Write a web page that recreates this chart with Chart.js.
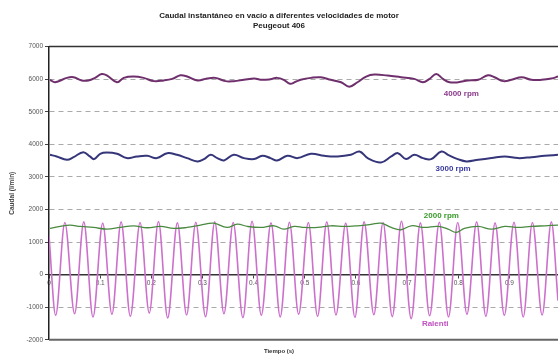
<!DOCTYPE html>
<html>
<head>
<meta charset="utf-8">
<script src="https://cdn.jsdelivr.net/npm/chart.js@4.4.0/dist/chart.umd.min.js"></script>
<style>
  html, body { margin: 0; padding: 0; background: #fff; }
  #wrap { width: 558px; height: 358px; }
</style>
</head>
<body>
<div id="wrap"><canvas id="caudalChart"></canvas></div>
<script>
// tiempo (s) y caudal (l/min)
const t4000 = [0.002, 0.012, 0.035, 0.048, 0.064, 0.077, 0.090, 0.103, 0.113, 0.133, 0.146, 0.165, 0.185, 0.205, 0.224, 0.241, 0.257, 0.270, 0.290, 0.309, 0.325, 0.345, 0.361, 0.381, 0.401, 0.417, 0.433, 0.446, 0.459, 0.471, 0.482, 0.492, 0.512, 0.531, 0.551, 0.571, 0.587, 0.603, 0.620, 0.636, 0.662, 0.688, 0.714, 0.731, 0.744, 0.757, 0.770, 0.783, 0.800, 0.819, 0.839, 0.858, 0.871, 0.888, 0.904, 0.924, 0.943, 0.963, 0.982, 0.995];
const v4000 = [5979, 5906, 6040, 6060, 5960, 5960, 6040, 6160, 6120, 5906, 6040, 6080, 6040, 5940, 5960, 6010, 6120, 6080, 5960, 6020, 6040, 5940, 5940, 5980, 6020, 5980, 6000, 6040, 5980, 5860, 5920, 5980, 6040, 6060, 5980, 5906, 5770, 5906, 6080, 6140, 6110, 6060, 6010, 5906, 6010, 6160, 6010, 5906, 5906, 5960, 5980, 6120, 6060, 5940, 5980, 6060, 5980, 5980, 6020, 6080];

const t3000 = [0.002, 0.015, 0.035, 0.048, 0.067, 0.080, 0.088, 0.100, 0.113, 0.133, 0.152, 0.172, 0.192, 0.211, 0.231, 0.250, 0.270, 0.290, 0.303, 0.316, 0.329, 0.342, 0.361, 0.381, 0.401, 0.417, 0.433, 0.446, 0.466, 0.486, 0.512, 0.538, 0.564, 0.590, 0.607, 0.623, 0.649, 0.669, 0.682, 0.698, 0.714, 0.731, 0.747, 0.767, 0.780, 0.799, 0.816, 0.839, 0.865, 0.891, 0.917, 0.943, 0.969, 0.995];
const v3000 = [3678, 3628, 3526, 3607, 3760, 3628, 3547, 3709, 3749, 3709, 3577, 3628, 3648, 3577, 3729, 3678, 3577, 3476, 3547, 3678, 3577, 3506, 3678, 3577, 3547, 3648, 3577, 3506, 3648, 3577, 3709, 3648, 3628, 3678, 3780, 3577, 3445, 3628, 3729, 3547, 3678, 3577, 3547, 3780, 3678, 3547, 3476, 3526, 3577, 3628, 3577, 3607, 3648, 3678];

const t2000 = [0.002, 0.022, 0.041, 0.061, 0.087, 0.113, 0.139, 0.165, 0.192, 0.218, 0.244, 0.270, 0.296, 0.322, 0.348, 0.368, 0.388, 0.414, 0.440, 0.459, 0.479, 0.499, 0.525, 0.551, 0.577, 0.603, 0.629, 0.649, 0.669, 0.688, 0.708, 0.734, 0.760, 0.780, 0.796, 0.812, 0.839, 0.865, 0.891, 0.917, 0.943, 0.969, 0.995];
const v2000 = [1419, 1480, 1520, 1480, 1449, 1398, 1449, 1500, 1439, 1480, 1419, 1449, 1520, 1581, 1449, 1550, 1480, 1449, 1500, 1398, 1480, 1449, 1449, 1500, 1480, 1500, 1540, 1581, 1449, 1378, 1500, 1449, 1480, 1398, 1297, 1419, 1480, 1398, 1480, 1449, 1480, 1500, 1520];

// ralenti: maximos y minimos de la oscilacion
const tRalenti = [0, 0.013, 0.031, 0.050, 0.068, 0.086, 0.105, 0.123, 0.141, 0.159, 0.178, 0.196, 0.214, 0.232, 0.251, 0.269, 0.287, 0.306, 0.324, 0.342, 0.360, 0.379, 0.397, 0.415, 0.434, 0.452, 0.470, 0.488, 0.507, 0.525, 0.543, 0.561, 0.580, 0.598, 0.616, 0.635, 0.653, 0.671, 0.689, 0.708, 0.726, 0.744, 0.763, 0.781, 0.799, 0.817, 0.836, 0.854, 0.872, 0.890, 0.909, 0.927, 0.945, 0.964, 0.982, 0.995];
const vRalenti = [1200, -1250, 1600, -1200, 1620, -1300, 1580, -1220, 1620, -1280, 1600, -1180, 1630, -1330, 1590, -1240, 1610, -1290, 1620, -1200, 1600, -1320, 1640, -1250, 1590, -1300, 1610, -1220, 1600, -1280, 1620, -1240, 1580, -1310, 1620, -1230, 1600, -1290, 1640, -1350, 1590, -1260, 1610, -1300, 1600, -1220, 1620, -1280, 1590, -1250, 1610, -1300, 1600, -1240, 1620, -800];

const yTicks = [7000, 6000, 5000, 4000, 3000, 2000, 1000, 0, -1000, -2000];
const xTicks = [0, 0.1, 0.2, 0.3, 0.4, 0.5, 0.6, 0.7, 0.8, 0.9];
const seriesNames = ['4000 rpm', '3000 rpm', '2000 rpm', 'Ralenti'];

function toPoints(ts, vs) {
    return ts.map(function(t, i) { return { x: t, y: vs[i] }; });
}

// etiquetas de cada curva, en coordenadas de datos
const seriesLabels = [
    { text: '4000 rpm', t: 0.806, v: 5563, color: '#8a3a8a' },
    { text: '3000 rpm', t: 0.790, v: 3253, color: '#3a3aa0' },
    { text: '2000 rpm', t: 0.767, v: 1794, color: '#3a9a2a' },
    { text: 'Ralenti', t: 0.755, v: -1520, color: '#c050c0' }
];

const framePlugin = {
    id: 'frame',
    beforeDatasetsDraw(chart) {
        const a = chart.chartArea, ctx = chart.ctx;
        ctx.save();
        ctx.strokeStyle = '#333';
        ctx.lineWidth = 1.5;
        ctx.beginPath();
        ctx.moveTo(a.left, a.top);
        ctx.lineTo(a.right, a.top);
        ctx.stroke();
        ctx.strokeStyle = '#666';
        ctx.lineWidth = 2;
        ctx.beginPath();
        ctx.moveTo(a.left, a.bottom);
        ctx.lineTo(a.right, a.bottom);
        ctx.stroke();
        ctx.restore();
    },
    afterDatasetsDraw(chart) {
        const ctx = chart.ctx, xs = chart.scales.x, ys = chart.scales.y;
        ctx.save();
        ctx.font = 'bold 8px "Liberation Sans", Arial, sans-serif';
        ctx.textAlign = 'center';
        ctx.textBaseline = 'middle';
        seriesLabels.forEach(function(l) {
            ctx.fillStyle = l.color;
            ctx.fillText(l.text, xs.getPixelForValue(l.t), ys.getPixelForValue(l.v));
        });
        ctx.restore();
    }
};

const ctx = document.getElementById('caudalChart').getContext('2d');
const caudalChart = new Chart(ctx, {
    type: 'line',
    data: {
        datasets: [{
            label: seriesNames[0],
            data: toPoints(t4000, v4000),
            borderColor: '#6e2f6c',
            borderWidth: 2,
            tension: 0.4
        }, {
            label: seriesNames[1],
            data: toPoints(t3000, v3000),
            borderColor: '#35357a',
            borderWidth: 2,
            tension: 0.4
        }, {
            label: seriesNames[2],
            data: toPoints(t2000, v2000),
            borderColor: '#4a8a40',
            borderWidth: 1.3,
            tension: 0.4
        }, {
            label: seriesNames[3],
            data: toPoints(tRalenti, vRalenti),
            borderColor: '#cc70cc',
            borderWidth: 1.6,
            cubicInterpolationMode: 'monotone'
        }]
    },
    options: {
        responsive: true,
        maintainAspectRatio: false,
        animation: false,
        devicePixelRatio: 1,
        elements: { point: { radius: 0 } },
        layout: { padding: { left: 0, right: 0, top: 0, bottom: 0 } },
        plugins: {
            legend: { display: false },
            tooltip: { enabled: false },
            title: {
                display: true,
                text: ['Caudal instantáneo en vacío a diferentes velocidades de motor', 'Peugeout 406'],
                color: '#222',
                font: { family: '"Liberation Sans", Arial, sans-serif', size: 8, weight: 'bold', lineHeight: 1.35 },
                padding: { top: 10, bottom: 15 }
            },
            subtitle: {
                display: true,
                position: 'bottom',
                text: 'Tiempo (s)',
                color: '#333',
                font: { family: '"Liberation Sans", Arial, sans-serif', size: 6, weight: 'bold', lineHeight: 1.2 },
                padding: { top: 8, bottom: 3 }
            }
        },
        scales: {
            x: {
                type: 'linear',
                position: { y: 0 },
                min: 0,
                max: 0.995,
                afterBuildTicks: function(axis) {
                    axis.ticks = xTicks.map(function(v) { return { value: v }; });
                },
                ticks: {
                    color: '#555',
                    padding: 2,
                    font: { family: '"Liberation Sans", Arial, sans-serif', size: 6.5 },
                    maxRotation: 0,
                    callback: function(v) { return String(v); }
                },
                grid: { drawOnChartArea: false, drawTicks: true, tickLength: 3, tickColor: '#444' },
                border: { display: true, color: '#333', width: 1.5 }
            },
            y: {
                min: -2000,
                max: 7000,
                afterBuildTicks: function(axis) {
                    axis.ticks = yTicks.map(function(v) { return { value: v }; });
                },
                afterFit: function(axis) { axis.width = 49; },
                ticks: {
                    color: '#555',
                    padding: 2,
                    font: { family: '"Liberation Sans", Arial, sans-serif', size: 6.5 },
                    callback: function(v) { return String(v); }
                },
                grid: {
                    color: function(c) {
                        const v = c.tick ? c.tick.value : null;
                        return (v === 7000 || v === 0 || v === -2000) ? 'rgba(0,0,0,0)' : '#aaa';
                    },
                    tickColor: '#444',
                    tickLength: 4,
                    lineWidth: 1
                },
                border: { display: true, color: '#222', width: 1.5, dash: [5, 4] },
                title: {
                    display: true,
                    text: 'Caudal (l/min)',
                    color: '#444',
                    font: { family: '"Liberation Sans", Arial, sans-serif', size: 6.5, weight: 'bold' },
                    padding: { top: 8, bottom: 0 }
                }
            }
        }
    },
    plugins: [framePlugin]
});
</script>
</body>
</html>
